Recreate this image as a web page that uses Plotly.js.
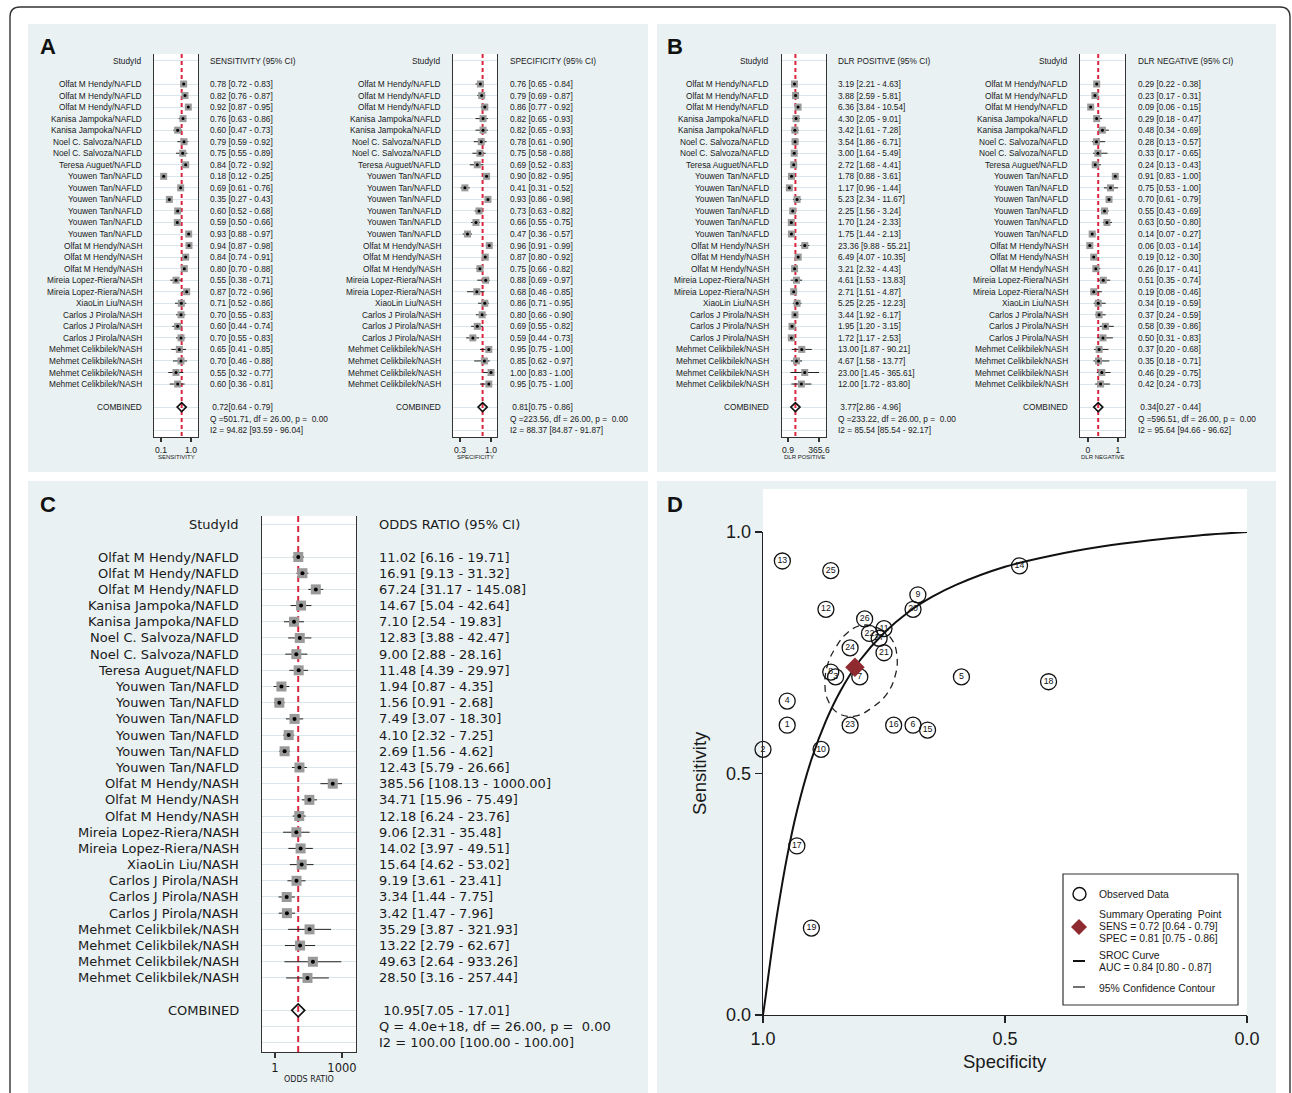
<!DOCTYPE html>
<html><head><meta charset="utf-8">
<script src="https://cdn.plot.ly/plotly-3.0.1.min.js"></script>
<style>html,body{margin:0;padding:0;background:#fff;} #chart{width:1292px;height:1093px;}</style>
</head><body><div id="chart"></div>
<script>
const W = 1292, H = 1093;

const studies = [
 'Olfat M Hendy/NAFLD','Olfat M Hendy/NAFLD','Olfat M Hendy/NAFLD',
 'Kanisa Jampoka/NAFLD','Kanisa Jampoka/NAFLD',
 'Noel C. Salvoza/NAFLD','Noel C. Salvoza/NAFLD',
 'Teresa Auguet/NAFLD',
 'Youwen Tan/NAFLD','Youwen Tan/NAFLD','Youwen Tan/NAFLD','Youwen Tan/NAFLD','Youwen Tan/NAFLD','Youwen Tan/NAFLD',
 'Olfat M Hendy/NASH','Olfat M Hendy/NASH','Olfat M Hendy/NASH',
 'Mireia Lopez-Riera/NASH','Mireia Lopez-Riera/NASH',
 'XiaoLin Liu/NASH',
 'Carlos J Pirola/NASH','Carlos J Pirola/NASH','Carlos J Pirola/NASH',
 'Mehmet Celikbilek/NASH','Mehmet Celikbilek/NASH','Mehmet Celikbilek/NASH','Mehmet Celikbilek/NASH'];

const sens   = [0.78,0.82,0.92,0.76,0.60,0.79,0.75,0.84,0.18,0.69,0.35,0.60,0.59,0.93,0.94,0.84,0.80,0.55,0.87,0.71,0.70,0.60,0.70,0.65,0.70,0.55,0.60];
const sensLo = [0.72,0.76,0.87,0.63,0.47,0.59,0.55,0.72,0.12,0.61,0.27,0.52,0.50,0.88,0.87,0.74,0.70,0.38,0.72,0.52,0.55,0.44,0.55,0.41,0.46,0.32,0.36];
const sensHi = [0.83,0.87,0.95,0.86,0.73,0.92,0.89,0.92,0.25,0.76,0.43,0.68,0.66,0.97,0.98,0.91,0.88,0.71,0.96,0.86,0.83,0.74,0.83,0.85,0.88,0.77,0.81];

const spec   = [0.76,0.79,0.86,0.82,0.82,0.78,0.75,0.69,0.90,0.41,0.93,0.73,0.66,0.47,0.96,0.87,0.75,0.88,0.68,0.86,0.80,0.69,0.59,0.95,0.85,1.00,0.95];
const specLo = [0.65,0.69,0.77,0.65,0.65,0.61,0.58,0.52,0.82,0.31,0.86,0.63,0.55,0.36,0.91,0.80,0.66,0.69,0.46,0.71,0.66,0.55,0.44,0.75,0.62,0.83,0.75];
const specHi = [0.84,0.87,0.92,0.93,0.93,0.90,0.88,0.83,0.95,0.52,0.98,0.82,0.75,0.57,0.99,0.92,0.82,0.97,0.85,0.95,0.90,0.82,0.73,1.00,0.97,1.00,1.00];

const dlrp   = [3.19,3.88,6.36,4.30,3.42,3.54,3.00,2.72,1.78,1.17,5.23,2.25,1.70,1.75,23.36,6.49,3.21,4.61,2.71,5.25,3.44,1.95,1.72,13.00,4.67,23.00,12.00];
const dlrpLo = [2.21,2.59,3.84,2.05,1.61,1.86,1.64,1.68,0.88,0.96,2.34,1.56,1.24,1.44,9.88,4.07,2.32,1.53,1.51,2.25,1.92,1.20,1.17,1.87,1.58,1.45,1.72];
const dlrpHi = [4.63,5.81,10.54,9.01,7.28,6.71,5.49,4.41,3.61,1.44,11.67,3.24,2.33,2.13,55.21,10.35,4.43,13.83,4.87,12.23,6.17,3.15,2.53,90.21,13.77,365.61,83.80];

const dlrn   = [0.29,0.23,0.09,0.29,0.48,0.28,0.33,0.24,0.91,0.75,0.70,0.55,0.63,0.14,0.06,0.19,0.26,0.51,0.19,0.34,0.37,0.58,0.50,0.37,0.35,0.46,0.42];
const dlrnLo = [0.22,0.17,0.06,0.18,0.34,0.13,0.17,0.13,0.83,0.53,0.61,0.43,0.50,0.07,0.03,0.12,0.17,0.35,0.08,0.19,0.24,0.39,0.31,0.20,0.18,0.29,0.24];
const dlrnHi = [0.38,0.31,0.15,0.47,0.69,0.57,0.65,0.43,1.00,1.00,0.79,0.69,0.80,0.27,0.14,0.30,0.41,0.74,0.46,0.59,0.59,0.86,0.83,0.68,0.71,0.75,0.73];

const odds   = [11.02,16.91,67.24,14.67,7.10,12.83,9.00,11.48,1.94,1.56,7.49,4.10,2.69,12.43,385.56,34.71,12.18,9.06,14.02,15.64,9.19,3.34,3.42,35.29,13.22,49.63,28.50];
const oddsLo = [6.16,9.13,31.17,5.04,2.54,3.88,2.88,4.39,0.87,0.91,3.07,2.32,1.56,5.79,108.13,15.96,6.24,2.31,3.97,4.62,3.61,1.44,1.47,3.87,2.79,2.64,3.16];
const oddsHi = [19.71,31.32,145.08,42.64,19.83,42.47,28.16,29.97,4.35,2.68,18.30,7.25,4.62,26.66,1000.00,75.49,23.76,35.48,49.51,53.02,23.41,7.75,7.96,321.93,62.67,933.26,257.44];

const pooledSens = [0.72, 0.64, 0.79];
const pooledSpec = [0.81, 0.75, 0.86];
const pooledDlrp = [3.77, 2.86, 4.96];
const pooledDlrn = [0.34, 0.27, 0.44];
const pooledOdds = [10.95, 7.05, 17.01];

const qStats  = [501.71, 223.56, 233.22, 596.51, 4.0e18];
const i2Sens = [94.82, 93.59, 96.04];
const i2Spec = [88.37, 84.87, 91.87];
const i2Dlrp = [85.54, 85.54, 92.17];
const i2Dlrn = [95.64, 94.66, 96.62];
const i2Odds = [100.00, 100.00, 100.00];

const auc = [0.84, 0.80, 0.87];

// SROC curve points
const srocSpec = [1.0,0.995,0.99,0.98,0.97,0.95,0.93,0.90,0.87,0.84,0.80,0.75,0.70,0.65,0.60,0.50,0.40,0.30,0.20,0.10,0.0];
const srocSens = [0.0,0.035,0.073,0.147,0.214,0.329,0.422,0.529,0.609,0.671,0.734,0.791,0.834,0.866,0.891,0.928,0.952,0.970,0.983,0.993,1.0];
// 95% confidence contour points
const ellSpec = [0.795,0.758,0.733,0.723,0.727,0.744,0.775,0.810,0.845,0.866,0.872,0.866,0.849,0.826,0.795];
const ellSens = [0.807,0.799,0.776,0.741,0.702,0.665,0.636,0.619,0.625,0.652,0.687,0.727,0.762,0.791,0.807];

const FONT = 'Liberation Sans, Arial, sans-serif';
const FONTC = 'DejaVu Sans, sans-serif';
const TXT = '#1a1a1a';
const fx = p => p / W;
const fy = p => 1 - p / H;
const f2 = v => v.toFixed(2);
const NB = '\u00a0';

const traces = [], shapes = [], annotations = [];
const layout = {
  width: W, height: H, margin: {l:0, r:0, t:0, b:0},
  paper_bgcolor: '#ffffff', plot_bgcolor: '#ffffff',
  showlegend: false, font: {family: FONT, color: TXT},
  shapes, annotations
};

// outer frame
const P = (x, y) => `${fx(x)},${fy(y)}`;
shapes.push({type:'path', xref:'paper', yref:'paper', layer:'below',
  path:`M${P(10,1093)} L${P(10,17)} Q${P(10,7)} ${P(20,7)} L${P(1280,7)} Q${P(1290,7)} ${P(1290,17)} L${P(1290,1093)}`,
  line:{color:'#333', width:1.4}});
// panel backgrounds
const BG = '#e9f1f3';
[[28,24,648,472],[657,24,1276,472],[28,481,648,1093],[657,481,1276,1093]].forEach(r => {
  shapes.push({type:'rect', xref:'paper', yref:'paper', layer:'below', x0:fx(r[0]), x1:fx(r[2]), y0:fy(r[3]), y1:fy(r[1]), fillcolor:BG, line:{width:0}});
});
// panel letters
[['A',48,47],['B',675,47],['C',48,504],['D',675,504]].forEach(l => {
  annotations.push({text:'<b>'+l[0]+'</b>', xref:'paper', yref:'paper', x:fx(l[1]), y:fy(l[2]), xanchor:'center', yanchor:'middle', showarrow:false, font:{family:FONT, size:22, color:'#111'}});
});

function qText(q) {
  return q < 1e6 ? 'Q =' + f2(q) : 'Q = ' + q.toExponential(1);
}

let axN = 0;
function forest(c) {
  axN++;
  const sfx = axN === 1 ? '' : String(axN);
  const xr = 'x' + sfx, yr = 'y' + sfx;
  const rowTop = (c.top - c.row0) / c.step, rowBot = (c.bot - c.row0) / c.step;
  const n = c.est.length;
  const rows = c.est.map((_, i) => i);
  const gridRows = [-2].concat(rows, [n + 1, n + 2, n + 3]);
  layout['xaxis' + sfx] = {domain:[fx(c.box[0]), fx(c.box[1])], type:c.type, range:c.range, anchor:yr,
    showline:true, linecolor:'#333', linewidth:1.2, mirror:false, ticks:'outside', ticklen:c.tl, tickwidth:1.1, tickcolor:'#333',
    tickmode:'array', tickvals:c.tickvals, ticktext:c.ticktext, tickfont:{family:c.fam, size:c.tfs, color:TXT},
    showgrid:false, zeroline:false, fixedrange:true};
  layout['yaxis' + sfx] = {domain:[fy(c.bot), fy(c.top)], range:[rowBot, rowTop], anchor:xr,
    showline:true, mirror:true, linecolor:'#333', linewidth:1.2, showgrid:true, gridcolor:'#dbe6eb', gridwidth:1,
    tickmode:'array', tickvals:gridRows, showticklabels:false, ticks:'', zeroline:false, fixedrange:true};
  // white plot area
  shapes.push({type:'rect', xref:'paper', yref:'paper', layer:'below', x0:fx(c.box[0]), x1:fx(c.box[1]), y0:fy(c.bot), y1:fy(c.top), fillcolor:'#ffffff', line:{width:0}});
  // pooled estimate dashed line
  traces.push({type:'scatter', mode:'lines', xaxis:xr, yaxis:yr, x:[c.pooled[0], c.pooled[0]], y:[rowTop, rowBot],
    line:{color:'#d9263f', width:2, dash:c.dash}, hoverinfo:'skip', cliponaxis:false});
  // study squares with CI
  traces.push({type:'scatter', mode:'markers', xaxis:xr, yaxis:yr, x:c.est, y:rows,
    marker:{symbol:'square', size:c.ms, color:'#9a9a9a'},
    error_x:{type:'data', symmetric:false, array:c.est.map((v,i)=>c.hi[i]-v), arrayminus:c.est.map((v,i)=>v-c.lo[i]), color:'#222', thickness:1, width:0},
    cliponaxis:false, hoverinfo:'skip'});
  traces.push({type:'scatter', mode:'markers', xaxis:xr, yaxis:yr, x:c.est, y:rows,
    marker:{symbol:'circle', size:c.dot, color:'#000'}, cliponaxis:false, hoverinfo:'skip'});
  // pooled diamond
  traces.push({type:'scatter', mode:'markers', xaxis:xr, yaxis:yr, x:[c.pooled[0]], y:[n + 1],
    marker:{symbol:'diamond-open', size:c.ds, color:'#111', line:{width:1.6, color:'#111'}}, cliponaxis:false, hoverinfo:'skip'});
  const font = {family:c.fam, size:c.fs, color:TXT};
  const L = (text, xpx, row, anchor) => annotations.push({text, xref:'paper', x:fx(xpx), yref:yr, y:row, xanchor:anchor, yanchor:'middle', showarrow:false, font, borderpad:0});
  L('StudyId', c.lab, -2, 'right');
  L(c.head, c.txt, -2, 'left');
  studies.forEach((s, i) => {
    L(s, c.lab, i, 'right');
    L(`${f2(c.est[i])} [${f2(c.lo[i])} - ${f2(c.hi[i])}]`, c.txt, i, 'left');
  });
  L('COMBINED', c.lab, n + 1, 'right');
  L(`${NB}${f2(c.pooled[0])}[${f2(c.pooled[1])} - ${f2(c.pooled[2])}]`, c.txt, n + 1, 'left');
  L(`${qText(c.q)}, df = ${f2(n - 1)}, p =${NB}${NB}0.00`, c.txt, n + 2, 'left');
  L(`I2 = ${f2(c.i2[0])} [${f2(c.i2[1])} - ${f2(c.i2[2])}]`, c.txt, n + 3, 'left');
  annotations.push({text:c.title, xref:'paper', yref:'paper', x:fx((c.box[0]+c.box[1])/2), y:fy(c.titleY), xanchor:'center', yanchor:'middle', showarrow:false, font:{family:c.fam, size:c.ttfs, color:TXT}});
}

const small = {fam:FONT, fs:8.3, tfs:8.6, ttfs:6, ms:7, dot:3, ds:7, tl:4, row0:84, step:11.54, top:54, bot:437, titleY:457, dash:'4px,3px'};
forest(Object.assign({}, small, {est:sens, lo:sensLo, hi:sensHi, pooled:pooledSens, q:qStats[0], i2:i2Sens,
  head:'SENSITIVITY (95% CI)', title:'SENSITIVITY', type:'linear', range:[-0.11,1.21], tickvals:[0.1,1], ticktext:['0.1','1.0'],
  box:[154,198], lab:143, txt:209}));
forest(Object.assign({}, small, {est:spec, lo:specLo, hi:specHi, pooled:pooledSpec, q:qStats[1], i2:i2Spec,
  head:'SPECIFICITY (95% CI)', title:'SPECIFICITY', type:'linear', range:[0.142,1.135], tickvals:[0.3,1], ticktext:['0.3','1.0'],
  box:[453,497], lab:442, txt:509}));
forest(Object.assign({}, small, {est:dlrp, lo:dlrpLo, hi:dlrpHi, pooled:pooledDlrp, q:qStats[2], i2:i2Dlrp,
  head:'DLR POSITIVE (95% CI)', title:'DLR POSITIVE', type:'log', range:[-0.551,3.152], tickvals:[0.9,365.6], ticktext:['0.9','365.6'],
  box:[782,826], lab:770, txt:837}));
forest(Object.assign({}, small, {est:dlrn, lo:dlrnLo, hi:dlrnHi, pooled:pooledDlrn, q:qStats[3], i2:i2Dlrn,
  head:'DLR NEGATIVE (95% CI)', title:'DLR NEGATIVE', type:'linear', range:[-0.267,1.233], tickvals:[0,1], ticktext:['0','1'],
  box:[1080,1125], lab:1069, txt:1137}));
forest({est:odds, lo:oddsLo, hi:oddsHi, pooled:pooledOdds, q:qStats[4], i2:i2Odds,
  head:'ODDS RATIO (95% CI)', title:'ODDS RATIO', type:'log', range:[-0.582,3.627], tickvals:[1,1000], ticktext:['1','1000'],
  box:[262,356], lab:240, txt:378, fam:FONTC, fs:13, tfs:11.5, ttfs:8, ms:10, dot:4, ds:10, tl:5,
  row0:557, step:16.19, top:516, bot:1052, titleY:1079, dash:'6px,4px'});

// ---------- Panel D: SROC ----------
shapes.push({type:'rect', xref:'paper', yref:'paper', layer:'below', x0:fx(763), x1:fx(1247), y0:fy(1015), y1:fy(489), fillcolor:'#ffffff', line:{width:0}});
layout.xaxis6 = {domain:[fx(763), fx(1247)], range:[1,0], anchor:'y6', showline:true, linecolor:'#222', linewidth:1.3,
  ticks:'outside', ticklen:7, tickwidth:1.2, tickcolor:'#222', tickmode:'array', tickvals:[1,0.5,0], ticktext:['1.0','0.5','0.0'],
  tickfont:{family:FONT, size:18, color:TXT}, showgrid:false, zeroline:false, fixedrange:true};
layout.yaxis6 = {domain:[fy(1015), fy(532)], range:[0,1], anchor:'x6', showline:true, linecolor:'#222', linewidth:1.3,
  ticks:'outside', ticklen:7, tickwidth:1.2, tickcolor:'#222', tickmode:'array', tickvals:[0,0.5,1], ticktext:['0.0','0.5','1.0'],
  tickfont:{family:FONT, size:18, color:TXT}, showgrid:false, zeroline:false, fixedrange:true};

traces.push({type:'scatter', mode:'lines', xaxis:'x6', yaxis:'y6', x:srocSpec, y:srocSens,
  line:{color:'#111', width:2, shape:'spline', smoothing:1}, cliponaxis:false, hoverinfo:'skip'});
traces.push({type:'scatter', mode:'lines', xaxis:'x6', yaxis:'y6', x:ellSpec, y:ellSens,
  line:{color:'#222', width:1.3, dash:'7px,5px', shape:'spline', smoothing:1.2}, cliponaxis:false, hoverinfo:'skip'});
traces.push({type:'scatter', mode:'markers+text', xaxis:'x6', yaxis:'y6', x:spec, y:sens,
  text:studies.map((_, i) => String(studies.length - i)), textposition:'middle center',
  textfont:{family:FONT, size:8.8, color:'#111'},
  marker:{symbol:'circle-open', size:16, color:'#111', line:{width:1.3, color:'#111'}}, cliponaxis:false, hoverinfo:'skip'});
traces.push({type:'scatter', mode:'markers', xaxis:'x6', yaxis:'y6', x:[pooledSpec[0]], y:[pooledSens[0]],
  marker:{symbol:'diamond', size:15, color:'#8e2a30'}, cliponaxis:false, hoverinfo:'skip'});

annotations.push({text:'Sensitivity', xref:'paper', yref:'paper', x:fx(699), y:fy(773), textangle:-90, xanchor:'center', yanchor:'middle', showarrow:false, font:{family:FONT, size:18.5, color:TXT}});
annotations.push({text:'Specificity', xref:'paper', yref:'paper', x:fx(1005), y:fy(1061), xanchor:'center', yanchor:'middle', showarrow:false, font:{family:FONT, size:18.5, color:TXT}});

// legend box
shapes.push({type:'rect', xref:'paper', yref:'paper', x0:fx(1063), x1:fx(1238), y0:fy(1005), y1:fy(874), fillcolor:'#ffffff', line:{color:'#333', width:1.2}});
shapes.push({type:'circle', xref:'paper', yref:'paper', x0:fx(1073), x1:fx(1086), y0:fy(900.5), y1:fy(887.5), line:{color:'#111', width:1.4}});
shapes.push({type:'path', xref:'paper', yref:'paper', path:`M${P(1071,927)} L${P(1079,919)} L${P(1087,927)} L${P(1079,935)} Z`, fillcolor:'#8e2a30', line:{width:0}});
shapes.push({type:'line', xref:'paper', yref:'paper', x0:fx(1073), x1:fx(1085), y0:fy(961), y1:fy(961), line:{color:'#111', width:2}});
shapes.push({type:'line', xref:'paper', yref:'paper', x0:fx(1073), x1:fx(1085), y0:fy(987), y1:fy(987), line:{color:'#111', width:1.2}});
const legFont = {family:FONT, size:10.4, color:TXT};
[['Observed Data',894],['Summary Operating' + NB + NB + 'Point',914],
 [`SENS = ${f2(pooledSens[0])} [${f2(pooledSens[1])} - ${f2(pooledSens[2])}]`,926],
 [`SPEC = ${f2(pooledSpec[0])} [${f2(pooledSpec[1])} - ${f2(pooledSpec[2])}]`,938],
 ['SROC Curve',955],[`AUC = ${f2(auc[0])} [${f2(auc[1])} - ${f2(auc[2])}]`,967],
 ['95% Confidence Contour',988]].forEach(t => {
  annotations.push({text:t[0], xref:'paper', yref:'paper', x:fx(1098), y:fy(t[1]), xanchor:'left', yanchor:'middle', showarrow:false, font:legFont, borderpad:0});
});

Plotly.newPlot('chart', traces, layout, {displayModeBar:false, staticPlot:true});
</script>
</body></html>
